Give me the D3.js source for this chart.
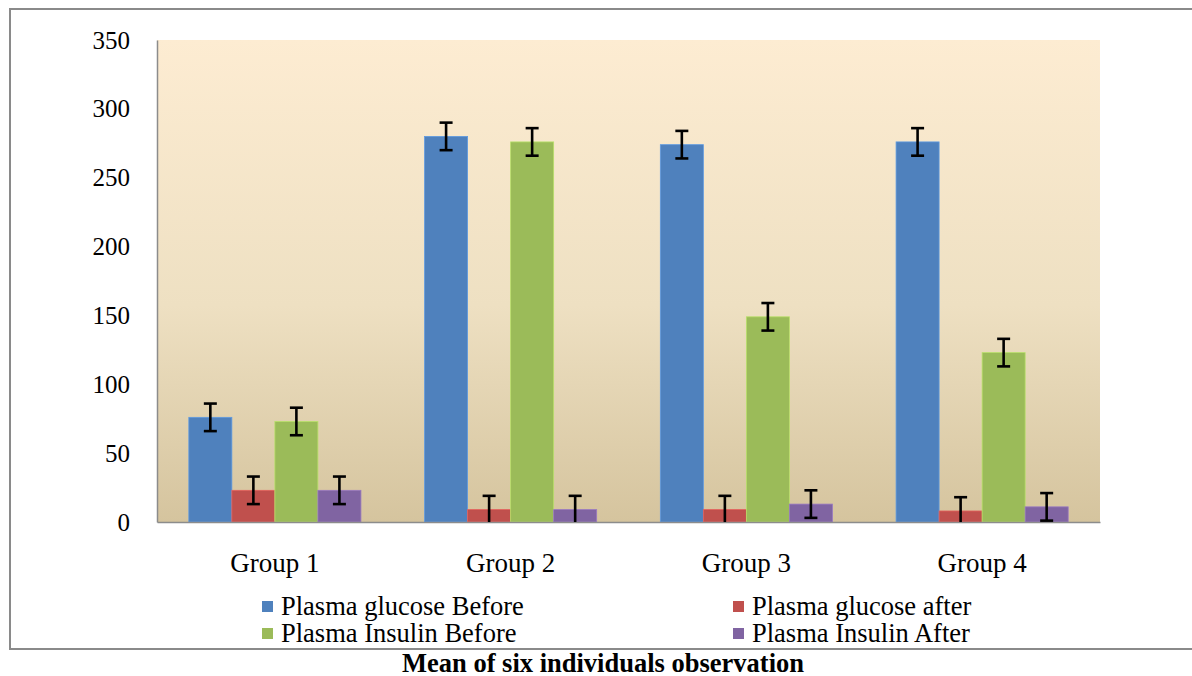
<!DOCTYPE html>
<html><head><meta charset="utf-8">
<script src="https://cdn.jsdelivr.net/npm/d3@7"></script>
<style>html,body{margin:0;padding:0;background:#fff;}svg{display:block;}</style>
</head><body>
<svg id="c" width="1192" height="676"></svg>
<script>
const groups = ["Group 1", "Group 2", "Group 3", "Group 4"];
const seriesNames = ["Plasma glucose Before", "Plasma glucose after", "Plasma Insulin Before", "Plasma Insulin After"];
const glucoseBefore = [76, 280, 274, 276];
const glucoseAfter = [23, 9, 9, 8];
const insulinBefore = [73, 276, 149, 123];
const insulinAfter = [23, 9, 13, 11];
const errors = [10, 10, 10, 10];
const yTicks = [0, 50, 100, 150, 200, 250, 300, 350];
const colors = ["#4F81BD", "#C0504D", "#9BBB59", "#8064A2"];
const title = "Mean of six individuals observation";

const seriesValues = [glucoseBefore, glucoseAfter, insulinBefore, insulinAfter];
const svg = d3.select("#c");
const L = 157, R = 1100, T = 40, B = 522;
const FONT = "'Liberation Serif','Times New Roman',serif";

// frame
svg.append("rect").attr("x", 10).attr("y", 9).attr("width", 1200).attr("height", 640)
  .attr("fill", "none").attr("stroke", "#8a8a8a").attr("stroke-width", 2);

const defs = svg.append("defs");
const grad = defs.append("linearGradient").attr("id", "bg").attr("x1", 0).attr("y1", 0).attr("x2", 0).attr("y2", 1);
grad.append("stop").attr("offset", "0%").attr("stop-color", "#FDECD2");
grad.append("stop").attr("offset", "55%").attr("stop-color", "#EEE0C2");
grad.append("stop").attr("offset", "100%").attr("stop-color", "#D5C49E");

svg.append("rect").attr("x", L).attr("y", T).attr("width", R - L).attr("height", B - T).attr("fill", "url(#bg)");

const y = d3.scaleLinear().domain([0, 350]).range([B, T]);
const x0 = d3.scaleBand().domain(groups).range([L, R]).padding(0);
const bw = x0.bandwidth();
const gap = bw * 0.27;
const x1 = d3.scaleBand().domain(seriesNames).range([gap / 2, bw - gap / 2]).padding(0);

// y axis
const yAxis = d3.axisLeft(y).tickValues(yTicks).tickSize(0).tickPadding(27);
const ya = svg.append("g").attr("transform", `translate(${L},0)`).call(yAxis);
ya.select(".domain").attr("stroke", "#8c8c8c").attr("stroke-width", 1.5);
ya.selectAll("text").attr("font-family", FONT).attr("font-size", 25).attr("fill", "#000");

// bars
groups.forEach((g, gi) => {
  seriesNames.forEach((s, si) => {
    const v = seriesValues[si][gi];
    svg.append("rect")
      .attr("x", x0(g) + x1(s)).attr("width", x1.bandwidth())
      .attr("y", y(v)).attr("height", y(0) - y(v))
      .attr("fill", colors[si])
      .attr("stroke", d3.color(colors[si]).brighter(0.5)).attr("stroke-width", 0.8);
  });
});

// x axis
const xAxis = d3.axisBottom(x0).tickSize(0).tickPadding(31);
const xa = svg.append("g").attr("transform", `translate(0,${B})`).call(xAxis);
xa.select(".domain").attr("stroke", "#8c8c8c").attr("stroke-width", 1.5);
xa.selectAll("text").attr("font-family", FONT).attr("font-size", 27).attr("fill", "#000");

// error bars
groups.forEach((g, gi) => {
  seriesNames.forEach((s, si) => {
    const v = seriesValues[si][gi], e = errors[si];
    const cx = x0(g) + x1(s) + x1.bandwidth() / 2;
    const hi = v + e, lo = Math.max(0, v - e);
    const eg = svg.append("g").attr("stroke", "#000").attr("stroke-width", 2.6);
    eg.append("line").attr("x1", cx).attr("x2", cx).attr("y1", y(hi)).attr("y2", y(lo));
    eg.append("line").attr("x1", cx - 6.5).attr("x2", cx + 6.5).attr("y1", y(hi)).attr("y2", y(hi));
    if (v - e > 0) eg.append("line").attr("x1", cx - 6.5).attr("x2", cx + 6.5).attr("y1", y(lo)).attr("y2", y(lo));
  });
});

// legend
const legPos = [[262, 615], [733, 615], [262, 642], [733, 642]];
seriesNames.forEach((s, i) => {
  const [lx, ly] = legPos[i];
  svg.append("rect").attr("x", lx).attr("y", ly - 14).attr("width", 11).attr("height", 11).attr("fill", colors[i]);
  svg.append("text").attr("x", lx + 19).attr("y", ly).attr("font-family", FONT).attr("font-size", 26.5).attr("fill", "#000").text(s);
});

// title
svg.append("text").attr("x", 603).attr("y", 672).attr("text-anchor", "middle")
  .attr("font-family", FONT).attr("font-size", 26.5).attr("font-weight", "bold").attr("fill", "#000").text(title);
</script>
</body></html>
